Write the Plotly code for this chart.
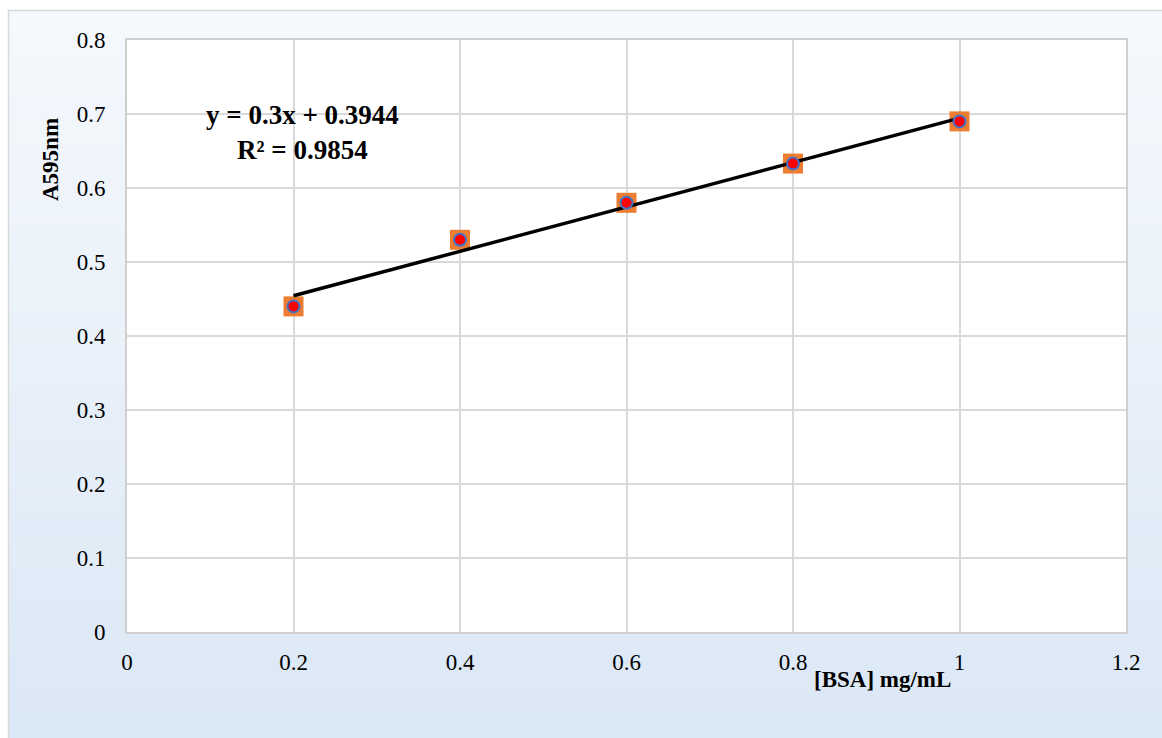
import plotly.graph_objects as go
import numpy as np

# Data
bsa = [0.2, 0.4, 0.6, 0.8, 1.0]
a595 = [0.44, 0.53, 0.58, 0.633, 0.69]
slope = 0.3
intercept = 0.3944
r2 = 0.9854
x_ticks = [0, 0.2, 0.4, 0.6, 0.8, 1, 1.2]
y_ticks = [0, 0.1, 0.2, 0.3, 0.4, 0.5, 0.6, 0.7, 0.8]

W, H = 1162, 738
L, R, T, B = 127, 36, 40, 106
pw, ph = W - L - R, H - T - B

def px_to_paper_x(px):
    return (px - L) / pw

def px_to_paper_y(py):
    return (H - B - py) / ph

fig = go.Figure()

# gradient background shapes
shapes = []
n = 60
top_c = np.array([246, 249, 253])
bot_c = np.array([219, 232, 246])
y0px, y1px = 10, 738
x0p, x1p = px_to_paper_x(8), px_to_paper_x(1162)
for i in range(n):
    ya = y0px + (y1px - y0px) * i / n
    yb = y0px + (y1px - y0px) * (i + 1) / n + 0.6
    t = (i + 0.5) / n
    c = (top_c + (bot_c - top_c) * t).astype(int)
    shapes.append(dict(type="rect", xref="paper", yref="paper", layer="below",
                       x0=x0p, x1=x1p, y0=px_to_paper_y(ya), y1=px_to_paper_y(yb),
                       fillcolor=f"rgb({c[0]},{c[1]},{c[2]})", line=dict(width=0)))
# white plot area
shapes.append(dict(type="rect", xref="paper", yref="paper", layer="below",
                   x0=0, x1=1, y0=0, y1=1, fillcolor="white", line=dict(width=0)))
# outer border
shapes.append(dict(type="rect", xref="paper", yref="paper", layer="below",
                   x0=px_to_paper_x(8.5), x1=px_to_paper_x(1170), y0=px_to_paper_y(10.5),
                   y1=px_to_paper_y(750), fillcolor="rgba(0,0,0,0)",
                   line=dict(color="#d9d9d9", width=1.5)))

# data markers: orange square with red circle
fig.add_trace(go.Scatter(x=bsa, y=a595, mode="markers",
                         marker=dict(symbol="square", size=20, color="#ED7D31",
                                     line=dict(width=0)),
                         showlegend=False, hoverinfo="skip"))
# trendline
xl = np.array([bsa[0], bsa[-1]])
fig.add_trace(go.Scatter(x=xl, y=slope * xl + intercept, mode="lines",
                         line=dict(color="black", width=3.5), showlegend=False))
fig.add_trace(go.Scatter(x=bsa, y=a595, mode="markers",
                         marker=dict(symbol="circle", size=12, color="#FF0000",
                                     line=dict(width=2, color="#4472C4")),
                         showlegend=False))

font = "Liberation Serif, Times New Roman, serif"
fig.update_layout(
    width=W, height=H,
    margin=dict(l=L, r=R, t=T, b=B),
    paper_bgcolor="white", plot_bgcolor="rgba(0,0,0,0)",
    shapes=shapes,
    font=dict(family=font, size=23, color="black"),
    xaxis=dict(range=[0, 1.2], tickvals=x_ticks, ticktext=[f"{v:g}" for v in x_ticks],
               showgrid=True, gridcolor="#d9d9d9", gridwidth=1.5,
               showline=True, linecolor="#cfcfcf", linewidth=2, mirror=True,
               zeroline=False, ticks="outside", ticklen=8, tickcolor="rgba(0,0,0,0)",
               tickfont=dict(size=23, family=font)),
    yaxis=dict(range=[0, 0.8], tickvals=y_ticks, ticktext=[f"{v:g}" for v in y_ticks],
               showgrid=True, gridcolor="#d9d9d9", gridwidth=1.5,
               showline=True, linecolor="#cfcfcf", linewidth=2, mirror=True,
               zeroline=False, ticks="outside", ticklen=15, tickcolor="rgba(0,0,0,0)",
               tickfont=dict(size=23, family=font)),
    annotations=[
        dict(xref="paper", yref="paper", x=px_to_paper_x(50), y=px_to_paper_y(160),
             text="<b>A595nm</b>", textangle=-90, showarrow=False,
             font=dict(size=23, family=font), xanchor="center", yanchor="middle"),
        dict(xref="paper", yref="paper", x=px_to_paper_x(882), y=px_to_paper_y(679),
             text="<b>[BSA] mg/mL</b>", showarrow=False,
             font=dict(size=23, family=font), xanchor="center", yanchor="middle"),
        dict(xref="paper", yref="paper", x=px_to_paper_x(302), y=px_to_paper_y(132),
             text=f"<b>y = {slope:g}x + {intercept:g}<br>R² = {r2:g}</b>", showarrow=False,
             font=dict(size=27, family=font), xanchor="center", yanchor="middle", align="center"),
    ],
)

fig.write_html("out.html")
